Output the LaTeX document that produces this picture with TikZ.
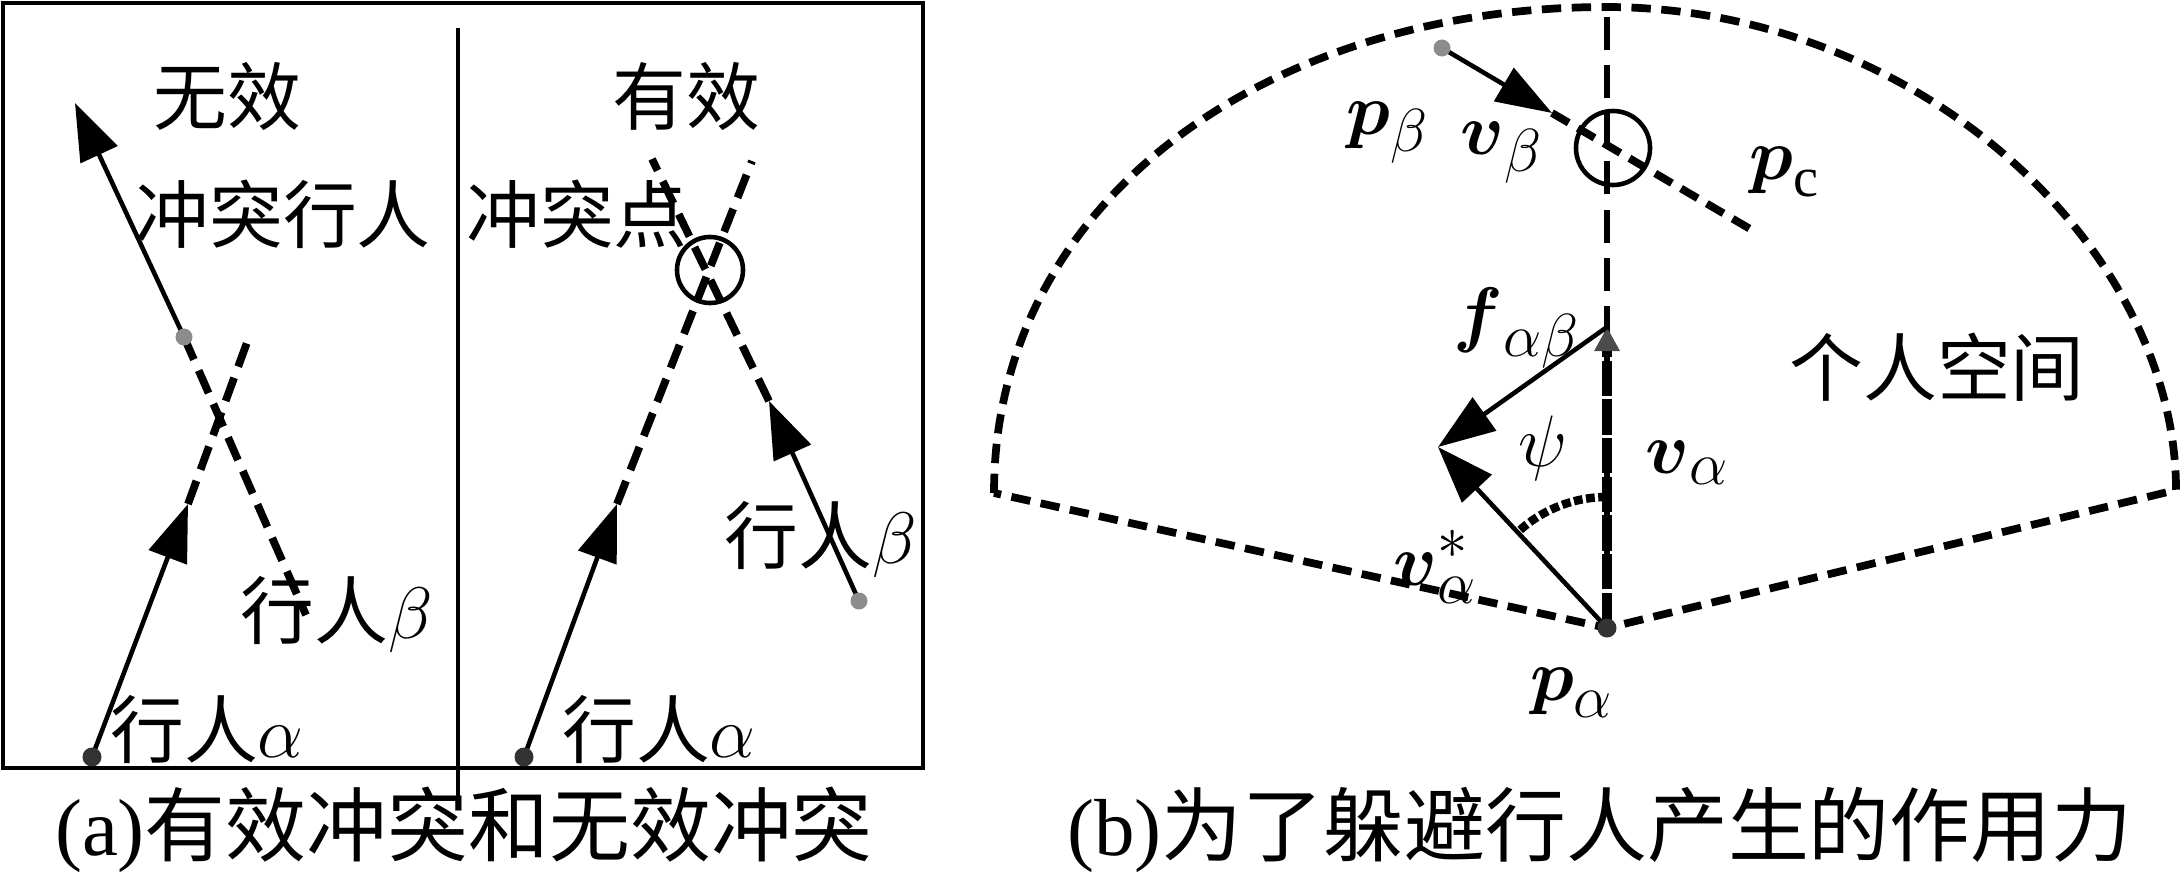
\documentclass[tikz,border=0pt]{standalone}
\usepackage{amsmath}
\usepackage{amssymb}
\usepackage{fontspec}
\setmainfont{Liberation Serif}
\newfontfamily\cjk{Noto Sans CJK SC}
\newcommand{\zh}[1]{{\cjk #1}}
\DeclareMathSizes{21}{21}{16}{12}
\usetikzlibrary{arrows.meta}

\begin{document}
\begin{tikzpicture}[x=0.01cm,y=-0.01cm,
    every node/.style={font=\fontsize{21}{25}\selectfont},
    zh/.style={font=\cjk\fontsize{21}{25}\selectfont},
    captext/.style={font=\fontsize{23}{28}\selectfont},
    vec/.style={line width=1.3pt,-{Triangle[length=0.57cm,width=0.4cm]}},
    track/.style={line width=2.2pt,dash pattern=on 7pt off 3.4pt},
    fan/.style={line width=2.2pt,dash pattern=on 5.5pt off 3pt},
    axis/.style={line width=1.8pt,dash pattern=on 9.4pt off 4.3pt},
    ring/.style={draw,circle,line width=1.3pt,inner sep=0pt},
    dotb/.style={circle,fill=black!80,inner sep=0pt,minimum size=0.19cm},
    dotg/.style={circle,fill=black!45,inner sep=0pt,minimum size=0.17cm}]
            \useasboundingbox (0,0) rectangle (2180,873);
            % (a)
            \draw[line width=1.4pt] (3,3) rectangle (923,768);
            \coordinate (div1) at (458,28);
            \coordinate (div2) at (458,796);
            \draw[line width=1.2pt] (div1) -- (div2);
            \coordinate (la0) at (92,757);
            \coordinate (la1) at (188,504);
            \coordinate (la2) at (249,337);
            \coordinate (lb0) at (184,337);
            \coordinate (lb1) at (75,103);
            \coordinate (lb2) at (306,615);
            \draw[vec] (la0) -- (la1);
            \draw[track] (la1) -- (la2);
            \draw[vec] (lb0) -- (lb1);
            \draw[track] (lb0) -- (lb2);
            \coordinate (ra0) at (524,757);
            \coordinate (ra1) at (617,504);
            \coordinate (ra2) at (752,161);
            \coordinate (rb0) at (859,601);
            \coordinate (rb1) at (769,401);
            \coordinate (rb2) at (652,159);
            \draw[vec] (ra0) -- (ra1);
            \draw[track] (ra1) -- (ra2);
            \draw[vec] (rb0) -- (rb1);
            \draw[track] (rb1) -- (rb2);
            \node[ring,minimum size=0.66cm] (rcirc) at (710,270) {};
            \node[dotb] (la0d) at (la0) {};
            \node[dotg] (lb0d) at (lb0) {};
            \node[dotb] (ra0d) at (ra0) {};
            \node[dotg] (rb0d) at (rb0) {};
            \node[zh] (wuxiao) at (227,97) {无效};
            \node[zh] (youxiao) at (686,97) {有效};
            \node[zh] (ctxr) at (283,214) {冲突行人};
            \node[zh] (ctd) at (577,214) {冲突点};
            \node[zh] (lbtext) at (337,615) {行人$\beta$};
            \node[zh] (latext) at (207,729) {行人$\alpha$};
            \node[zh] (rbtext) at (821,540) {行人$\beta$};
            \node[zh] (ratext) at (659,729) {行人$\alpha$};
            \node[captext] (capa) at (464,830) {(a)\zh{有效冲突和无效冲突}};
            % (b)
            \coordinate (pa) at (1607,628);
            \coordinate (top) at (1607,7);
            \coordinate (lc) at (994,493);
            \coordinate (rc) at (2176,490);
            \coordinate (vtip) at (1607,327);
            \coordinate (ftip) at (1438,447);
            \coordinate (pb) at (1442,48);
            \coordinate (vbtip) at (1552,113);
            \coordinate (pcend) at (1757,233);
            \coordinate (psi0) at (1607,497);
            \draw[fan] (lc) .. controls (994,201) and (1267,7) .. (top)
                .. controls (1920,8) and (2176,249) .. (rc) -- (pa) -- cycle;
            \draw[axis] (pa) -- (top);
            \draw[line width=2.6pt,dash pattern=on 10pt off 1pt,
                -{Triangle[length=0.24cm,width=0.24cm,color=black!70]}] (pa) -- (vtip);
            \draw[vec] (vtip) -- (ftip);
            \draw[vec] (pa) -- (ftip);
            \draw[line width=2.4pt,dash pattern=on 2.5pt off 1pt] (psi0) arc[start angle=-90,end angle=-133,radius=131];
            \draw[line width=1.3pt,-{Triangle[length=0.56cm,width=0.38cm]}] (pb) -- (vbtip);
            \draw[fan] (vbtip) -- (pcend);
            \node[ring,minimum size=0.74cm] (pcirc) at (1613,148) {};
            \node[dotg] (pbd) at (pb) {};
            \node[dotb] (pad) at (pa) {};
            \node (lpb) at (1388,133) {$\boldsymbol{p}_\beta$};
            \node (lvb) at (1502,153) {$\boldsymbol{v}_\beta$};
            \node (lpc) at (1785,172) {$\boldsymbol{p}_\mathrm{c}$};
            \node (lf) at (1517,328) {$\boldsymbol{f}_{\alpha\beta}$};
            \node (lpsi) at (1543,448) {$\psi$};
            \node (lva) at (1687,463) {$\boldsymbol{v}_\alpha$};
            \node (lvs) at (1435,567) {$\boldsymbol{v}_\alpha^*$};
            \node (lpa) at (1572,693) {$\boldsymbol{p}_\alpha$};
            \node[zh] (grkj) at (1937,367) {个人空间};
            \node[captext] (capb) at (1600,830) {(b)\zh{为了躲避行人产生的作用力}};
        \end{tikzpicture}
\end{document}
